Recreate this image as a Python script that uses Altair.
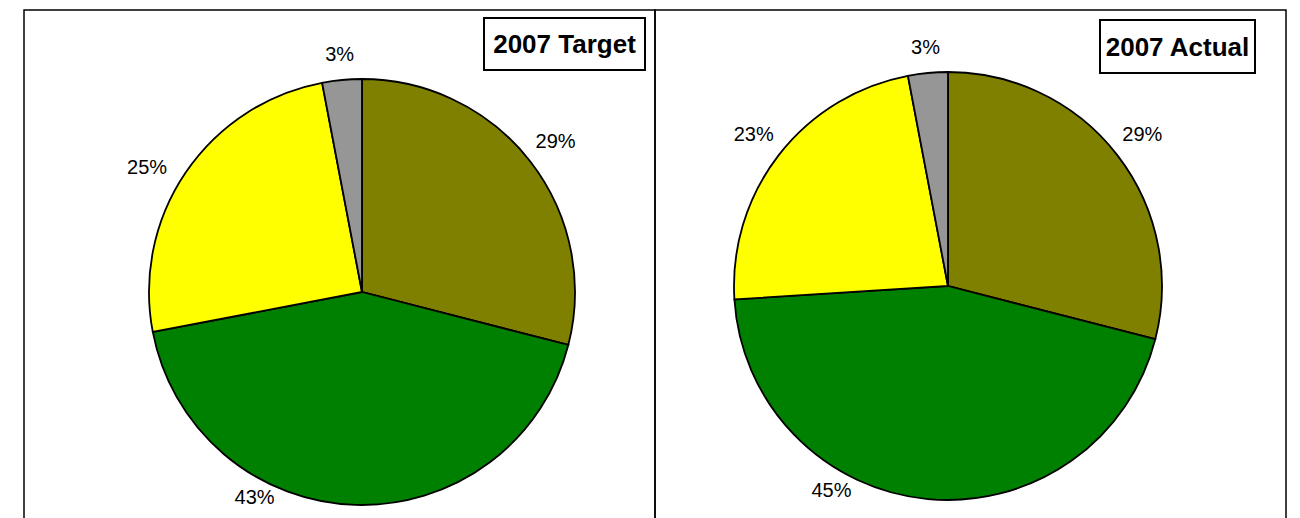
import math
import altair as alt
import pandas as pd

categories = ["Olive", "Green", "Yellow", "Gray"]
target_values = [29, 43, 25, 3]
actual_values = [29, 45, 23, 3]
colors = ["#808000", "#008000", "#FFFF00", "#969696"]
titles = ["2007 Target", "2007 Actual"]

FONT = "Liberation Sans"
theta_scale = alt.Scale(domain=[0, 1], range=[0, 2 * math.pi])
color_scale = alt.Scale(domain=categories, range=colors)


def panel(values, title, cx, cy, r, box, nudges):
    df = pd.DataFrame({
        "cat": categories,
        "value": values,
        "idx": list(range(len(categories))),
        "label": [f"{v}%" for v in values],
    })
    base = (
        alt.Chart(df)
        .transform_joinaggregate(total="sum(value)")
        .transform_window(cum="sum(value)", sort=[alt.SortField("idx")])
        .transform_calculate(
            start="(datum.cum - datum.value) / datum.total",
            end="datum.cum / datum.total",
            mid="(datum.cum - datum.value / 2) / datum.total",
        )
        .transform_calculate(
            labr=f"{r} + 14 + min(21 / max(abs(sin(2 * PI * datum.mid)), 0.000001),"
                 f" 11 / max(abs(cos(2 * PI * datum.mid)), 0.000001))"
        )
    )
    arcs = base.mark_arc(x=cx, y=cy, radius=r, stroke="black", strokeWidth=1.8).encode(
        theta=alt.Theta("start:Q", scale=theta_scale),
        theta2="end:Q",
        color=alt.Color("cat:N", scale=color_scale, legend=None),
    )
    layers = [arcs]
    plain = [c for c in categories if c not in nudges]
    layers.append(
        base.transform_filter(alt.FieldOneOfPredicate(field="cat", oneOf=plain))
        .mark_text(x=cx, y=cy, fontSize=20, font=FONT, color="black")
        .encode(
            theta=alt.Theta("mid:Q", scale=theta_scale),
            radius=alt.Radius("labr:Q", scale=None),
            text="label:N",
        )
    )
    for cat, (ddx, ddy) in nudges.items():
        layers.append(
            base.transform_filter(alt.datum.cat == cat)
            .mark_text(x=cx, y=cy, dx=ddx, dy=ddy, fontSize=20, font=FONT, color="black")
            .encode(
                theta=alt.Theta("mid:Q", scale=theta_scale),
                radius=alt.Radius("labr:Q", scale=None),
                text="label:N",
            )
        )
    tdf = pd.DataFrame({"t": [title]})
    rect = alt.Chart(tdf).mark_rect(fill="white", stroke="black", strokeWidth=2).encode(
        x=alt.value(box[0]), x2=alt.value(box[1]), y=alt.value(box[2]), y2=alt.value(box[3])
    )
    ttext = alt.Chart(tdf).mark_text(
        fontSize=26, fontWeight="bold", font=FONT, color="black", align="center", baseline="middle"
    ).encode(
        text="t:N",
        x=alt.value((box[0] + box[1]) / 2),
        y=alt.value((box[2] + box[3]) / 2 + 1),
    )
    layers += [rect, ttext]
    return alt.layer(*layers).properties(width=631, height=520)


left = panel(target_values, titles[0], 338, 282, 213, (460, 621, 8, 60),
             {"Green": (-100, -32), "Yellow": (-11, 15)})
right = panel(actual_values, titles[1], 293, 276, 214, (445, 600, 10, 63),
              {"Green": (-94, -33)})

chart = (
    alt.hconcat(left, right, spacing=0, bounds="flush")
    .properties(padding={"left": 15, "top": 1, "right": 0, "bottom": 0})
    .configure_view(stroke="black", strokeWidth=1.5)
)

chart.save("out.html", embed_options={"renderer": "svg", "actions": False})
